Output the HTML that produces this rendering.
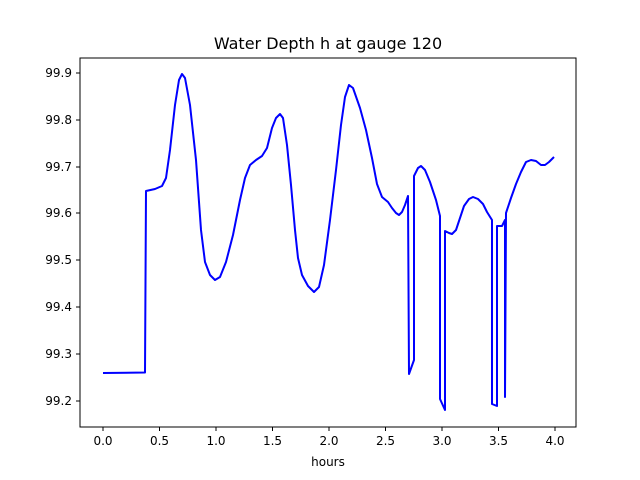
<!DOCTYPE html>
<html><head><style>body{margin:0;background:#fff}svg{display:block}</style></head><body>
<svg width="640" height="480" xmlns="http://www.w3.org/2000/svg" font-family="DejaVu Sans, Liberation Sans, sans-serif">
<rect width="640" height="480" fill="#fff"/>
<text x="328" y="49" font-size="16" text-anchor="middle">Water Depth h at gauge 120</text>
<path d="M103,373 L145,372.5 L146,191 L155,189 L162,186 L166,178 L170,150 L175,105 L179,80 L182,74 L185,78 L190,105 L196,160 L201,230 L205,262 L210,275 L215,280 L220,277 L226,262 L233,235 L240,200 L245,178 L250,165 L256,160 L262,156 L267,148 L272,128 L276,118 L280,114 L283,118 L287,145 L291,185 L295,230 L298,258 L302,275 L308,286 L314,292 L319,287 L324,265 L330,220 L336,170 L341,125 L345,97 L349,85 L353,88 L360,108 L366,130 L372,158 L377,184 L382,197 L388,202 L392,208 L396,213 L399,215 L402,212 L405,205 L408,196 L409,374 L414,360 L414,176 L418,168 L421,166 L425,170 L430,182 L436,200 L440,216 L440,399 L445,410 L445,231 L449,233 L452,234 L456,230 L460,218 L464,206 L469,199 L473,197 L478,199 L483,204 L487,212 L492,220 L492,404 L497,406 L497,226 L502,226 L505,220 L505,397 L506,213 L511,198 L516,184 L521,172 L526,162 L531,160 L536,161 L541,165 L545,165 L549,162 L554,157" fill="none" stroke="#0000ff" stroke-width="2" stroke-linejoin="round"/>
<rect x="80" y="58" width="496" height="369" fill="none" stroke="#000" stroke-width="1"/>
<g stroke="#000">
<line x1="103" y1="427" x2="103" y2="431"/><line x1="159.5" y1="427" x2="159.5" y2="431"/><line x1="216" y1="427" x2="216" y2="431"/><line x1="272.5" y1="427" x2="272.5" y2="431"/><line x1="329" y1="427" x2="329" y2="431"/><line x1="385.5" y1="427" x2="385.5" y2="431"/><line x1="442" y1="427" x2="442" y2="431"/><line x1="498.5" y1="427" x2="498.5" y2="431"/><line x1="555" y1="427" x2="555" y2="431"/>
<line x1="76" y1="73" x2="80" y2="73"/><line x1="76" y1="120" x2="80" y2="120"/><line x1="76" y1="167" x2="80" y2="167"/><line x1="76" y1="213" x2="80" y2="213"/><line x1="76" y1="260" x2="80" y2="260"/><line x1="76" y1="307" x2="80" y2="307"/><line x1="76" y1="354" x2="80" y2="354"/><line x1="76" y1="401" x2="80" y2="401"/>
</g>
<g font-size="12" text-anchor="middle">
<text x="103" y="445">0.0</text><text x="159.5" y="445">0.5</text><text x="216" y="445">1.0</text><text x="272.5" y="445">1.5</text><text x="329" y="445">2.0</text><text x="385.5" y="445">2.5</text><text x="442" y="445">3.0</text><text x="498.5" y="445">3.5</text><text x="555" y="445">4.0</text>
<text x="328" y="466">hours</text>
</g>
<g font-size="12" text-anchor="end">
<text x="72" y="77">99.9</text><text x="72" y="124">99.8</text><text x="72" y="171">99.7</text><text x="72" y="217">99.6</text><text x="72" y="264">99.5</text><text x="72" y="311">99.4</text><text x="72" y="358">99.3</text><text x="72" y="405">99.2</text>
</g>
</svg>
</body></html>
